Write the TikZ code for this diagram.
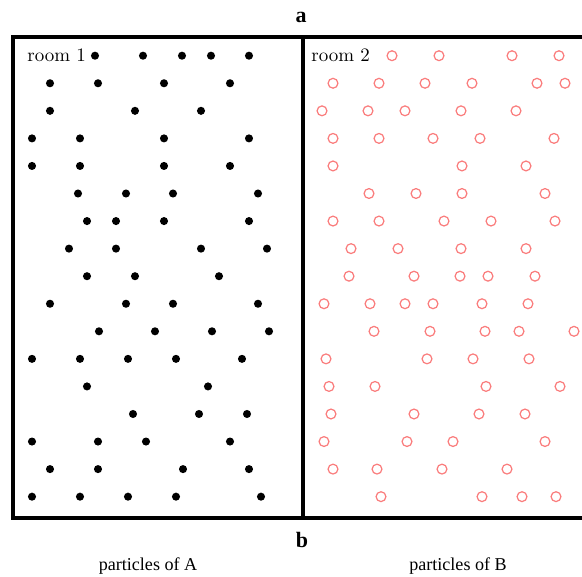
\documentclass[tikz,border=0pt]{standalone}
\usepackage{fontspec}
\newfontfamily\timesfont{Liberation Serif}
\usetikzlibrary{positioning}
\definecolor{particleA}{RGB}{0, 0, 0}
\definecolor{particleB}{RGB}{250, 125, 125}

\begin{document}
\begin{tikzpicture}[x=0.02cm, y=-0.02cm,
    wall/.style={line width=1.9pt},
    dotA/.style={fill=particleA},
    ringB/.style={draw=particleB, line width=0.7pt},
    roomlabel/.style={font=\fontsize{10.8}{12}\selectfont, anchor=west, inner sep=0pt},
    panel/.style={font=\timesfont\bfseries\fontsize{12.5}{14}\selectfont, inner sep=0pt},
    caption/.style={font=\timesfont\fontsize{10.3}{12}\selectfont, inner sep=0pt}]
    \useasboundingbox (0,0) rectangle (582,576);
    % Walls of the two rooms
    \coordinate (topRight) at (582,37);
    \coordinate (topLeft) at (13,37);
    \coordinate (botLeft) at (13,518);
    \coordinate (botRight) at (582,518);
    \coordinate (wallTop) at (303,37);
    \coordinate (wallBot) at (303,518);
    \draw[wall] (topRight) -- (topLeft) -- (botLeft) -- (botRight);
    \draw[wall] (wallTop) -- (wallBot);

    % Panel letters
    \node[panel] (labelA) at (301,17) {a};
    \node[panel] (labelB) at (302,540) {b};

    % Room labels
    \node[roomlabel] (room1) at (27,55) {room 1};
    \node[roomlabel] (room2) at (311,55) {room 2};

    % Particles of A (room 1)
    \foreach \r/\xs in {0/{95,143,182,211,249}, 1/{50,98,164,230}, 2/{50,135,201},
        3/{32,80,164,249}, 4/{32,80,164,230}, 5/{78,126,173,258},
        6/{87,116,164,249}, 7/{69,116,201,267}, 8/{87,135,219},
        9/{50,126,173,258}, 10/{99,155,212,269}, 11/{32,80,128,176,242},
        12/{87,208}, 13/{133,199,247}, 14/{32,98,146,230},
        15/{50,98,183,249}, 16/{32,80,128,176,261}} {
        \foreach \x in \xs {
            \fill[dotA] (\x,55.7+27.56*\r) circle (2.3pt);
        }
    }

    % Particles of B (room 2)
    \foreach \r/\xs in {0/{392,439,512,559}, 1/{333,379,425,472,537,565},
        2/{322,368,405,461,516}, 3/{333,379,433,480,554}, 4/{333,462,526},
        5/{369,416,462,545}, 6/{333,379,444,491,555}, 7/{351,398,461,526},
        8/{349,414,460,488,535}, 9/{324,370,405,433,482,528},
        10/{374,430,485,519,574}, 11/{326,427,473,529}, 12/{329,375,486,560},
        13/{331,414,479,525}, 14/{324,407,453,545}, 15/{333,377,442,507},
        16/{381,482,522,556}} {
        \foreach \x in \xs {
            \draw[ringB] (\x,55.7+27.56*\r) circle (2.8pt);
        }
    }

    % Captions
    \node[caption] (captionA) at (148,566) {particles of A};
    \node[caption] (captionB) at (458,566) {particles of B};
\end{tikzpicture}
\end{document}
